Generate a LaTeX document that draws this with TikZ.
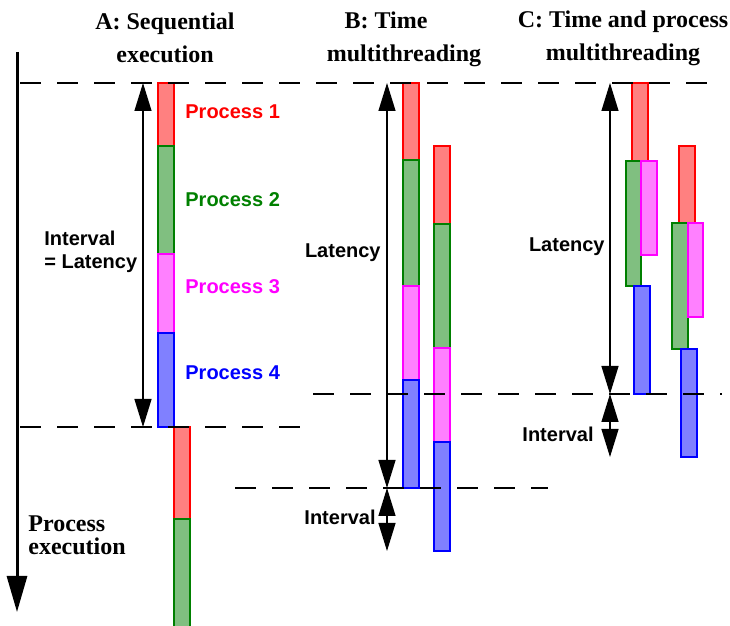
\documentclass[tikz,border=0pt]{standalone}
\usepackage{fontspec}
\setmainfont{Liberation Serif}
\setsansfont{Liberation Sans}
\usetikzlibrary{arrows.meta}
\definecolor{pred}{RGB}{255,0,0}
\definecolor{pgreen}{RGB}{0,128,0}
\definecolor{pmag}{RGB}{255,0,255}
\definecolor{pblue}{RGB}{0,0,255}

\begin{document}
\begin{tikzpicture}[x=0.5pt,y=-0.5pt,
    title/.style={font=\fontsize{12}{16.5}\selectfont\bfseries, align=center, inner sep=0pt},
    lbl/.style={font=\fontsize{10}{11.5}\selectfont\sffamily\bfseries, inner sep=0pt},
    pA/.style={draw=pred, fill=pred!50, line width=0.8pt},
    pB/.style={draw=pgreen, fill=pgreen!50, line width=0.8pt},
    pC/.style={draw=pmag, fill=pmag!50, line width=0.8pt},
    pD/.style={draw=pblue, fill=pblue!50, line width=0.8pt},
    cutline/.style={dash pattern=on 10.5pt off 8pt, line width=1pt},
    dimarrow/.style={{Triangle[length=14pt,width=8.5pt]}-{Triangle[length=14pt,width=8.5pt]}, line width=0.65pt}]
                \useasboundingbox (0,0) rectangle (730,626);
                % titles
                \draw (165,38) node[title] (tA) {A: Sequential\\execution};
                \draw (404,39) node[title] (tB) {B: Time\hspace*{18pt}\\multithreading};
                \draw (623,38) node[title] (tC) {C: Time and process\\multithreading};
                % time axis
                \coordinate (axT) at (17,52);
                \coordinate (axB) at (17,612);
                \draw[line width=1.5pt, -{Triangle[length=18pt,width=10pt]}] (axT) -- (axB);
                \draw (28,535) node[anchor=west, align=left, inner sep=0pt, font=\fontsize{12}{11.5}\selectfont\bfseries] (axL) {Process\\execution};
                % A: sequential
                \draw[pA] (158,83) rectangle (174,146);
                \draw[pB] (158,146) rectangle (174,254);
                \draw[pC] (158,254) rectangle (174,333);
                \draw[pD] (158,333) rectangle (174,427);
                \draw[pA] (174,427) rectangle (190,519);
                \draw[pB] (174,519) rectangle (190,630);
                \draw (185,112) node[lbl, anchor=west, text=pred] (n1) {Process 1};
                \draw (185,200) node[lbl, anchor=west, text=pgreen] (n2) {Process 2};
                \draw (185,287) node[lbl, anchor=west, text=pmag] (n3) {Process 3};
                \draw (185,373) node[lbl, anchor=west, text=pblue] (n4) {Process 4};
                \coordinate (aT) at (143,83);
                \coordinate (aB) at (143,427);
                \draw[dimarrow] (aT) -- (aB);
                \draw (44,252) node[lbl, anchor=west, align=left] (latA) {Interval\\= Latency};
                % B: time multithreading
                \draw[pA] (403,83) rectangle (419,160);
                \draw[pB] (403,160) rectangle (419,286);
                \draw[pC] (403,286) rectangle (419,380);
                \draw[pD] (403,380) rectangle (419,488);
                \draw[pA] (434,146) rectangle (450,224);
                \draw[pB] (434,224) rectangle (450,348);
                \draw[pC] (434,348) rectangle (450,442);
                \draw[pD] (434,442) rectangle (450,551);
                \coordinate (bT) at (387,83);
                \coordinate (bM) at (387,488);
                \coordinate (bB) at (387,551);
                \draw[dimarrow] (bT) -- (bM);
                \draw[dimarrow] (bM) -- (bB);
                \draw (381,253) node[lbl, anchor=east] (latB) {Latency};
                \draw (376,517) node[lbl, anchor=east] (intB) {Interval};
                % C: time and process multithreading
                \draw[pA] (632,83) rectangle (648,161);
                \draw[pB] (626,161) rectangle (641,286);
                \draw[pC] (641,161) rectangle (657,255);
                \draw[pD] (634,286) rectangle (650,394);
                \draw[pA] (679,146) rectangle (695,223);
                \draw[pB] (672,223) rectangle (688,349);
                \draw[pC] (688,223) rectangle (703,317);
                \draw[pD] (681,349) rectangle (697,457);
                \coordinate (cT) at (610,83);
                \coordinate (cM) at (610,394);
                \coordinate (cB) at (610,457);
                \draw[dimarrow] (cT) -- (cM);
                \draw[dimarrow] (cM) -- (cB);
                \draw (605,247) node[lbl, anchor=east] (latC) {Latency};
                \draw (594,434) node[lbl, anchor=east] (intC) {Interval};
                % dashed time marks
                \coordinate (d1a) at (20,83);   \coordinate (d1b) at (722,83);
                \coordinate (d2a) at (20,427);  \coordinate (d2b) at (315,427);
                \coordinate (d3a) at (313,394); \coordinate (d3b) at (722,394);
                \coordinate (d4a) at (235,488); \coordinate (d4b) at (548,488);
                \draw[cutline] (d1a) -- (d1b);
                \draw[cutline] (d2a) -- (d2b);
                \draw[cutline] (d3a) -- (d3b);
                \draw[cutline] (d4a) -- (d4b);
            \end{tikzpicture}
\end{document}
